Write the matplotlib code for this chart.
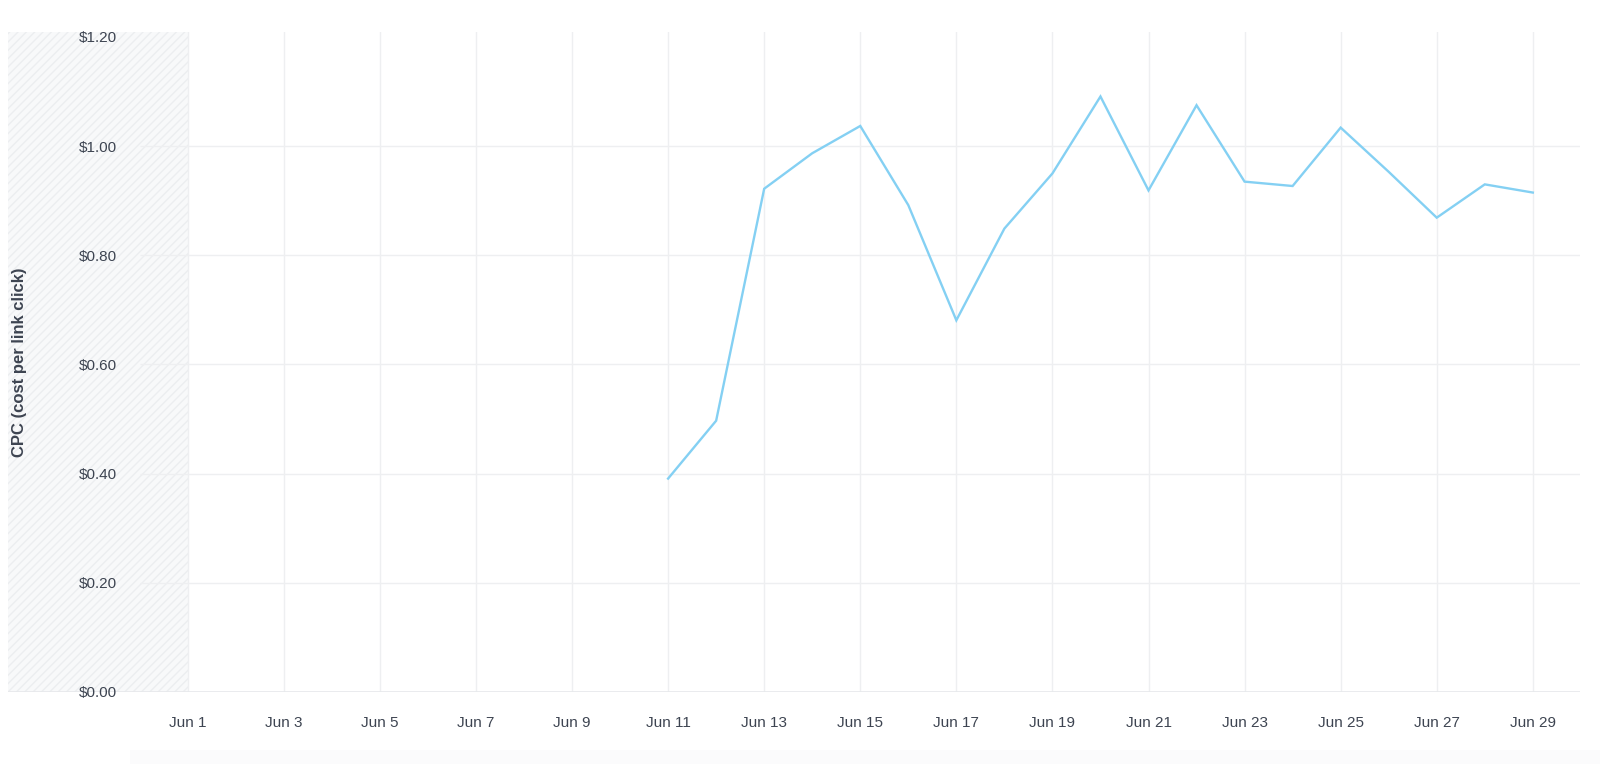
import matplotlib.pyplot as plt
from matplotlib.patches import Rectangle

plt.rcParams["font.family"] = ["Liberation Sans", "DejaVu Sans"]

# CPC per day (Jun 11 - Jun 29)
days = list(range(11, 30))
cpc = [0.391, 0.497, 0.922, 0.987, 1.037, 0.892, 0.681, 0.849, 0.950, 1.091,
       0.919, 1.075, 0.935, 0.927, 1.034, 0.953, 0.869, 0.930, 0.915]

tick_days = list(range(1, 30, 2))
tick_labels = [f"Jun {d}" for d in tick_days]
y_ticks = [0.0, 0.2, 0.4, 0.6, 0.8, 1.0, 1.2]
y_labels = [f"${v:.2f}" for v in y_ticks]

text_color = "#3d4451"
grid_color = "#eeeff1"
line_color = "#84d0f3"

W, H = 1600, 764
fig = plt.figure(figsize=(W / 100, H / 100), dpi=100)
fig.patch.set_facecolor("white")

# faint band at the bottom of the screenshot
fig.patches.append(Rectangle((130 / W, 0), 1 - 130 / W, 14 / H, transform=fig.transFigure,
                             facecolor="#fbfbfc", edgecolor="none", zorder=0))

left_px, right_px, top_px, base_px = 8, 1580, 32, 692
ax = fig.add_axes([left_px / W, 1 - base_px / H, (right_px - left_px) / W, (base_px - top_px) / H])

px_per_day = 48.04
jun1_px = 187.7
x0 = 1 + (left_px - jun1_px) / px_per_day
x1 = 1 + (right_px - jun1_px) / px_per_day
ax.set_xlim(x0, x1)
ax.set_ylim(0, 1.2 + 5 / 546)

# hatched region before the start of the range
ax.axvspan(x0, 1, facecolor="#f8f9fa", edgecolor="#eceef0", hatch="////", linewidth=0, zorder=0)

# grid
grid_start = 1 + (140 - jun1_px) / px_per_day
for v in y_ticks[1:-1]:
    ax.hlines(v, grid_start, x1, color=grid_color, linewidth=1, zorder=1)
for d in tick_days:
    ax.axvline(d, color=grid_color, linewidth=1, zorder=1)
ax.axhline(0, color="#e6e8eb", linewidth=1.2, zorder=1)

ax.plot(days, cpc, color=line_color, linewidth=1.7, zorder=3, solid_joinstyle="miter")

for s in ax.spines.values():
    s.set_visible(False)

ax.set_xticks(tick_days, tick_labels)
ax.set_yticks(y_ticks, y_labels)
ax.tick_params(axis="x", length=0, pad=17, labelsize=11, labelcolor=text_color)
ax.tick_params(axis="y", length=0, pad=-78.5, labelsize=11, labelcolor=text_color)

ax.set_ylabel("CPC (cost per link click)", fontsize=12, fontweight="bold", color=text_color)
ax.yaxis.set_label_coords((27 - left_px) / (right_px - left_px), 0.5)

fig.savefig("out.png", dpi=100)
